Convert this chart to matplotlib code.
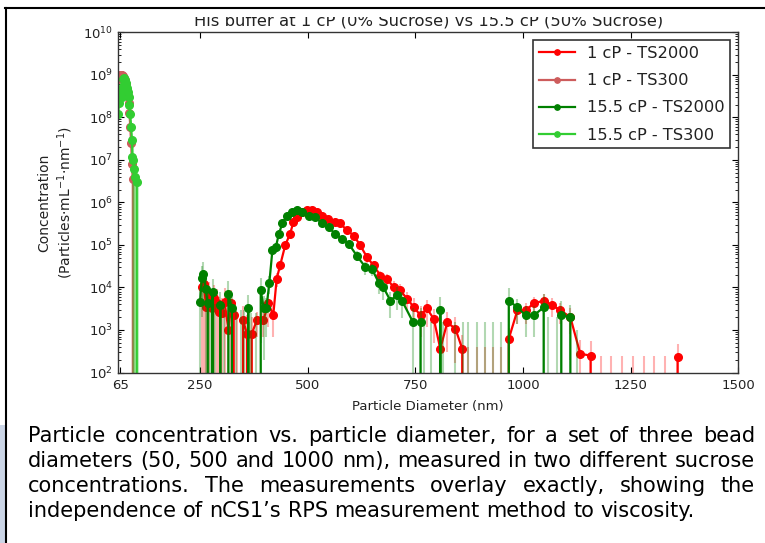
import matplotlib
matplotlib.use('Agg')
import matplotlib.pyplot as plt
from matplotlib.lines import Line2D
from matplotlib.patches import Rectangle

# ---- data ----
# 1 cP - TS2000
d_1cp_2000 = [254, 259, 264, 270, 277, 283, 289, 295, 301, 307, 316, 322, 328, 336, 350, 359, 364, 370,
              382, 397, 409, 420, 428, 436, 448, 459, 467, 475, 487, 498, 510, 521, 533, 548, 564, 576,
              591, 607, 622, 638, 653, 669, 684, 700, 715, 731, 746, 762, 777, 793, 808, 824, 843, 859,
              873, 894, 912, 931, 950, 967, 987, 1006, 1025, 1048, 1068, 1087, 1110, 1133, 1157,
              1180, 1205, 1230, 1255, 1280, 1305, 1330, 1359]
c_1cp_2000 = [1.0e4, 1.2e4, 3.5e3, 6.5e3, 3.2e3, 5.5e3, 4.2e3, 2.6e3, 2.5e3, 4.6e3, 1.0e3, 4.2e3, 2.2e3, 0,
              1.7e3, 8.1e2, 0, 8.1e2,
              1.7e3, 1.7e3, 4.2e3, 2.2e3, 1.6e4, 3.3e4, 1.0e5, 1.8e5, 3.5e5, 4.5e5, 5.9e5, 6.5e5, 6.8e5,
              5.9e5, 4.9e5, 4.1e5, 3.5e5, 3.2e5,
              2.2e5, 1.66e5, 9.8e4, 5.1e4, 3.3e4, 1.9e4, 1.6e4, 1.0e4, 8.5e3, 5.4e3, 3.5e3, 2.2e3, 3.2e3,
              1.8e3, 3.6e2, 1.5e3, 1.07e3, 3.6e2,
              0, 0, 0, 0, 0, 6.2e2, 2.9e3, 2.9e3, 4.2e3, 4.9e3, 3.8e3, 2.9e3, 2.0e3, 2.75e2, 2.5e2,
              0, 0, 0, 0, 0, 0, 0, 2.3e2]
e_1cp_2000 = [1.2e4, 1.4e4, 4.5e3, 7.0e3, 4.0e3, 6.0e3, 5.0e3, 3.5e3, 3.0e3, 5.0e3, 2.0e3, 4.5e3, 3.0e3, 2.0e3,
              2.0e3, 1.5e3, 1.5e3, 1.2e3,
              1.0e3, 1.0e3, 3.0e3, 1.5e3, 6.0e3, 8.0e3, 2.0e4, 3.0e4, 5.0e4, 6.0e4, 7.0e4, 7.0e4, 7.0e4,
              6.0e4, 5.0e4, 4.5e4, 4.0e4, 3.5e4,
              3.0e4, 2.5e4, 2.0e4, 1.3e4, 9.0e3, 6.0e3, 5.0e3, 4.0e3, 3.5e3, 2.5e3, 2.0e3, 1.5e3, 2.0e3,
              1.3e3, 4.0e2, 1.2e3, 9.0e2, 4.0e2,
              4.0e2, 4.0e2, 4.0e2, 4.0e2, 4.0e2, 5.0e2, 1.5e3, 1.5e3, 1.8e3, 2.0e3, 1.8e3, 1.5e3, 1.2e3,
              3.0e2, 3.0e2,
              2.5e2, 2.5e2, 2.5e2, 2.5e2, 2.5e2, 2.5e2, 2.5e2, 2.5e2]

# 1 cP - TS300
d_1cp_300 = [60, 62, 64, 66, 68, 70, 72, 74, 76, 78, 80, 82, 84, 86, 88, 90, 92, 94, 97]
c_1cp_300 = [8.0e8, 9.5e8, 1.0e9, 1.0e9, 9.8e8, 9.5e8, 9.0e8, 8.5e8, 7.5e8, 6.0e8, 4.5e8, 3.2e8,
             2.2e8, 1.3e8, 6.0e7, 2.5e7, 8.0e6, 3.6e6, 0]
e_1cp_300 = [8.0e7, 9.0e7, 9.0e7, 9.0e7, 9.0e7, 9.0e7, 8.0e7, 8.0e7, 7.0e7, 6.0e7, 5.0e7, 4.0e7,
             3.0e7, 2.0e7, 1.0e7, 6.0e6, 4.0e6, 4.0e6, 3.0e6]

# 15.5 cP - TS2000
d_155_2000 = [250, 254, 258, 263, 268, 273, 279, 285, 297, 305, 316, 324, 333, 344, 352, 362, 368, 380,
              391, 398, 404, 411, 418, 426, 433, 441, 452, 464, 475, 487, 502, 518, 533, 549, 564, 580,
              595, 614, 634, 649, 665, 676, 692, 707, 719, 745, 762, 770, 787, 808, 815, 843, 860,
              873, 894, 912, 931, 950, 967, 987, 1006, 1025, 1048, 1058, 1078, 1089, 1110, 1125]
c_155_2000 = [4.5e3, 1.7e4, 2.1e4, 9.3e3, 4.2e3, 0, 7.8e3, 0, 3.8e3, 0, 7.1e3, 3.2e3, 0, 0, 0, 3.2e3, 0, 0,
              8.5e3, 3.2e3, 3.2e3, 1.3e4, 7.4e4, 8.9e4, 1.8e5, 3.2e5, 4.9e5, 5.9e5, 6.5e5, 5.9e5, 4.9e5,
              4.5e5, 3.2e5, 2.6e5, 1.8e5, 1.4e5,
              1.07e5, 5.6e4, 3.0e4, 2.75e4, 1.3e4, 1.0e4, 4.9e3, 6.5e3, 4.9e3, 1.5e3, 1.5e3, 0, 0, 2.9e3,
              0, 0, 0,
              0, 0, 0, 0, 0, 4.9e3, 3.4e3, 2.2e3, 2.2e3, 3.4e3, 0, 0, 2.2e3, 2.0e3, 0]
e_155_2000 = [5.0e3, 1.5e4, 1.8e4, 1.0e4, 5.0e3, 5.0e3, 8.0e3, 4.0e3, 4.0e3, 4.0e3, 7.0e3, 3.5e3, 3.0e3,
              3.0e3, 3.0e3, 3.5e3, 2.5e3, 2.5e3,
              8.0e3, 3.0e3, 2.5e3, 6.0e3, 2.0e4, 2.5e4, 4.0e4, 5.0e4, 6.0e4, 7.0e4, 7.0e4, 6.5e4, 6.0e4,
              5.0e4, 4.0e4, 3.5e4, 3.0e4, 2.5e4,
              2.0e4, 1.5e4, 1.0e4, 9.0e3, 6.0e3, 5.0e3, 3.0e3, 3.5e3, 3.0e3, 1.8e3, 1.8e3, 1.5e3, 1.5e3,
              3.0e3, 1.5e3, 1.5e3, 1.5e3,
              1.5e3, 1.5e3, 1.5e3, 1.5e3, 1.5e3, 5.0e3, 2.0e3, 1.5e3, 1.5e3, 3.5e3, 2.0e3, 2.0e3, 2.5e3,
              1.8e3, 1.0e3]

# 15.5 cP - TS300
d_155_300 = [60, 62, 64, 66, 68, 70, 72, 74, 76, 78, 80, 82, 84, 86, 88, 90, 92, 93, 95, 97, 100, 103, 105]
c_155_300 = [1.2e8, 2.2e8, 3.5e8, 4.5e8, 3.0e8, 5.5e8, 8.0e8, 8.5e8, 7.5e8, 6.5e8, 5.0e8, 4.0e8,
             3.0e8, 2.0e8, 1.2e8, 6.0e7, 3.0e7, 1.2e7, 1.0e7, 6.0e6, 4.0e6, 3.0e6, 0]
e_155_300 = [2.0e7, 3.0e7, 4.0e7, 5.0e7, 4.0e7, 6.0e7, 8.0e7, 8.0e7, 7.0e7, 6.0e7, 5.0e7, 4.0e7,
             3.0e7, 2.0e7, 1.5e7, 1.0e7, 6.0e6, 4.0e6, 1.2e7, 8.0e6, 5.0e6, 4.0e6, 3.0e6]

x_ticks = [65, 250, 500, 750, 1000, 1250, 1500]

title = 'His buffer at 1 cP (0% Sucrose) vs 15.5 cP (50% Sucrose)'
caption = ['Particle concentration vs. particle diameter, for a set of three bead',
           'diameters (50, 500 and 1000 nm), measured in two different sucrose',
           'concentrations. The measurements overlay exactly, showing the',
           'independence of nCS1\u2019s RPS measurement method to viscosity.']

W, H = 765, 543
txt = '#222222'

fig = plt.figure(figsize=(W / 100, H / 100), dpi=100)
ax = fig.add_axes([118 / W, 1 - 372.5 / H, (738.3 - 118) / W, (372.5 - 32.3) / H])
ax.set_yscale('log')


def draw(d, c, e, color, label):
    ax.errorbar(d, c, yerr=e, fmt='none', ecolor=color, elinewidth=1.5, alpha=0.3, capsize=0)
    ax.plot(d, c, '-o', color=color, mec=color, lw=1.6, ms=5.5, label=label)


draw(d_1cp_2000, c_1cp_2000, e_1cp_2000, 'red', '1 cP - TS2000')
draw(d_1cp_300, c_1cp_300, e_1cp_300, 'indianred', '1 cP - TS300')
draw(d_155_2000, c_155_2000, e_155_2000, 'green', '15.5 cP - TS2000')
draw(d_155_300, c_155_300, e_155_300, 'limegreen', '15.5 cP - TS300')

ax.set_xlim(59.5, 1500)
ax.set_ylim(1e2, 1e10)
ax.set_xticks(x_ticks)
ax.set_xticklabels([str(t) for t in x_ticks])
ax.tick_params(which='both', direction='in', top=True, right=True, labelsize=9.5, labelcolor=txt)
ax.tick_params(which='major', length=4.5, width=0.8)
ax.tick_params(which='minor', length=2.5, width=0.6)
ax.tick_params(axis='x', pad=4.5)
ax.tick_params(axis='y', pad=3.5)
for s in ax.spines.values():
    s.set_linewidth(1.0)
    s.set_color('#333333')

ax.set_title(title, fontsize=11.8, color=txt, pad=5.2)
ax.set_xlabel('Particle Diameter (nm)', fontsize=9.5, color=txt, labelpad=6)
ax.set_ylabel('Concentration\n(Particles$\\cdot$mL$^{-1}$$\\cdot$nm$^{-1}$)', fontsize=10,
              color=txt, linespacing=1.3)
ax.yaxis.set_label_coords((75 - 118) / 620.3, 0.5)

leg = ax.legend(loc='upper right', fontsize=11.7, numpoints=1, markerscale=0.7, fancybox=False,
                framealpha=1, edgecolor='#333333', borderpad=0.35, labelspacing=0.75,
                handlelength=2.2, handletextpad=0.75, borderaxespad=0.5)
leg.get_frame().set_linewidth(1.2)
for t in leg.get_texts():
    t.set_color(txt)

# page framing around the screenshot
fig.add_artist(Rectangle((7 / W, 1 - 16.5 / H), 1, 7.8 / H, transform=fig.transFigure,
                         facecolor='white', edgecolor='none', zorder=5))
fig.add_artist(Line2D([5 / W, 1], [1 - 7.7 / H] * 2, transform=fig.transFigure,
                      color='black', lw=1.5, zorder=6))
fig.add_artist(Line2D([6 / W, 6 / W], [0, 1 - 7.7 / H], transform=fig.transFigure,
                      color='black', lw=1.5, zorder=6))
fig.add_artist(Rectangle((0, 0), 4.7 / W, (H - 425) / H, transform=fig.transFigure,
                         facecolor='#cbd5e6', edgecolor='none', zorder=5))

# justified caption
r = fig.canvas.get_renderer()


def width(s, size):
    t = fig.text(0, 0, s, fontsize=size)
    w = t.get_window_extent(r).width
    t.remove()
    return w


size = 14.0 * 669 / width(caption[3], 14.0)
space = width('a a', size) - width('aa', size)
bases = [442, 467, 492, 517]
for i, line in enumerate(caption):
    words = line.split(' ')
    ws = [width(w, size) for w in words]
    if i < len(caption) - 1:
        gap = (727 - sum(ws)) / (len(words) - 1)
    else:
        gap = space
    x = 28
    for w, wd in zip(words, ws):
        fig.text(x / W, 1 - bases[i] / H, w, fontsize=size, va='baseline', ha='left', color='black')
        x += wd + gap

fig.savefig('out.png', dpi=100)
